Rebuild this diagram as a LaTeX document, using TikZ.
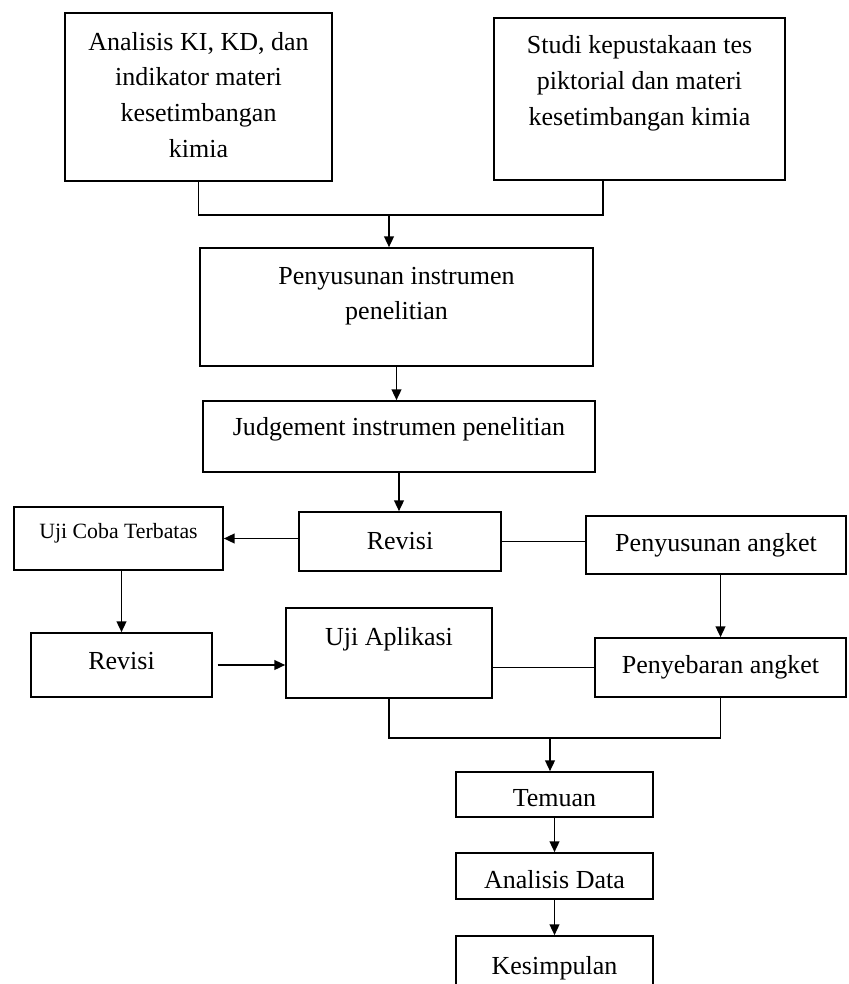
\documentclass[tikz,border=0pt]{standalone}
\usepackage{fontspec}
\setmainfont{Liberation Serif}
\usetikzlibrary{arrows.meta}

\begin{document}
\begin{tikzpicture}[font=\fontsize{18.5}{25.5}\selectfont]
        \tikzset{
            box/.style={draw=black, line width=1.1pt, inner sep=0pt},
            txt/.style={align=center, inner sep=0pt},
            smalltxt/.style={txt, font=\fontsize{15.5}{19}\selectfont},
            flow/.style={draw=black, line width=1.4pt, -{Triangle[length=0.27cm, width=0.24cm]}},
            joint/.style={draw=black, line width=1.2pt}
        }
        \useasboundingbox (0,0) rectangle (21.225,-24.6);

        % boxes
        \node[box, minimum width=6.675cm, minimum height=4.2cm] (analisis) at (4.9625,-2.425) {};
        \node[box, minimum width=7.275cm, minimum height=4.05cm] (studi) at (15.9875,-2.475) {};
        \node[box, minimum width=9.825cm, minimum height=2.95cm] (susun) at (9.9125,-7.675) {};
        \node[box, minimum width=9.8cm, minimum height=1.775cm] (judge) at (9.975,-10.9125) {};
        \node[box, minimum width=5.05cm, minimum height=1.475cm] (rev1) at (10.0,-13.5375) {};
        \node[box, minimum width=5.225cm, minimum height=1.575cm] (ujicoba) at (2.9625,-13.4625) {};
        \node[box, minimum width=6.5cm, minimum height=1.45cm] (angket) at (17.9,-13.625) {};
        \node[box, minimum width=4.525cm, minimum height=1.6cm] (rev2) at (3.0375,-16.625) {};
        \node[box, minimum width=5.15cm, minimum height=2.25cm] (ujiapl) at (9.725,-16.325) {};
        \node[box, minimum width=6.275cm, minimum height=1.475cm] (sebar) at (18.0125,-16.6875) {};
        \node[box, minimum width=4.925cm, minimum height=1.125cm] (temuan) at (13.8625,-19.8625) {};
        \node[box, minimum width=4.925cm, minimum height=1.15cm] (data) at (13.8625,-21.9) {};
        \node[box, minimum width=4.925cm, minimum height=1.6cm] (simpul) at (13.8625,-24.2) {};

        % texts
        \node[txt] (analisistxt) at ([yshift=0.05cm]analisis.center) {Analisis KI, KD, dan\\indikator materi\\kesetimbangan\\kimia};
        \node[txt] (studitxt) at ([yshift=0.39cm]studi.center) {Studi kepustakaan tes\\piktorial dan materi\\kesetimbangan kimia};
        \node[txt] (susuntxt) at ([yshift=0.27cm]susun.center) {Penyusunan instrumen\\penelitian};
        \node[txt] (judgetxt) at ([yshift=0.19cm]judge.center) {Judgement instrumen penelitian};
        \node[txt] (rev1txt) at (rev1.center) {Revisi};
        \node[smalltxt] (ujicobatxt) at ([yshift=0.14cm]ujicoba.center) {Uji Coba Terbatas};
        \node[txt] (angkettxt) at (angket.center) {Penyusunan angket};
        \node[txt] (rev2txt) at ([yshift=0.1cm]rev2.center) {Revisi};
        \node[txt] (ujiapltxt) at ([yshift=0.35cm]ujiapl.center) {Uji Aplikasi};
        \node[txt] (sebartxt) at (sebar.center) {Penyebaran angket};
        \node[txt] (temuantxt) at ([yshift=-0.09cm]temuan.center) {Temuan};
        \node[txt] (datatxt) at ([yshift=-0.1cm]data.center) {Analisis Data};
        \node[txt] (simpultxt) at (simpul.center) {Kesimpulan};

        % joins
        \coordinate (jtop) at (9.725,-5.375);
        \coordinate (jtopr) at (15.075,-5.375);
        \coordinate (jbot) at (13.75,-18.45);

        % connectors
        \draw[joint] (analisis.south) |- (jtopr) -- (jtopr |- studi.south);
        \draw[flow] (jtop) -- (jtop |- susun.north);
        \draw[flow] (susun.south) -- (susun.south |- judge.north);
        \draw[flow] (judge.south) -- (judge.south |- rev1.north);
        \draw[flow] (rev1.west |- ujicoba.east) -- (ujicoba.east);
        \draw[joint] (rev1.east) -- (rev1.east -| angket.west);
        \draw[flow] (rev2.north |- ujicoba.south) -- (rev2.north);
        \draw[flow, shorten <=0.12cm] (rev2.east) -- (rev2.east -| ujiapl.west);
        \draw[flow] (sebar.north |- angket.south) -- (sebar.north);
        \draw[joint] (sebar.west -| ujiapl.east) -- (sebar.west);
        \draw[joint] (ujiapl.south) |- (sebar.south |- jbot) -- (sebar.south);
        \draw[flow] (jbot) -- (jbot |- temuan.north);
        \draw[flow] (temuan.south) -- (data.north);
        \draw[flow] (data.south) -- (simpul.north);
    \end{tikzpicture}
\end{document}
